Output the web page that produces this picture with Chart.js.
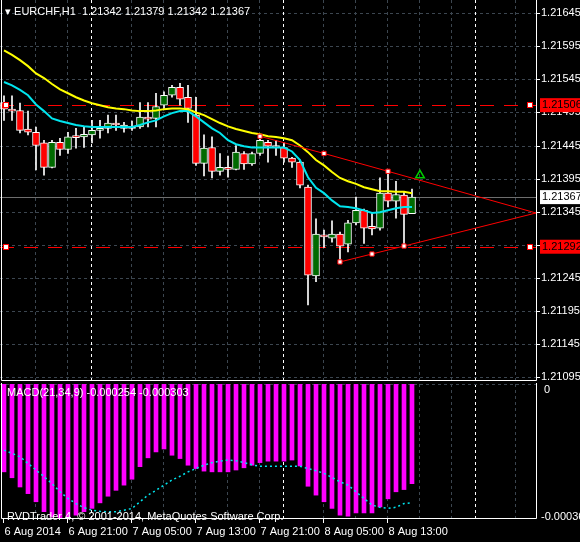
<!DOCTYPE html>
<html>
<head>
<meta charset="utf-8">
<script src="https://cdn.jsdelivr.net/npm/chart.js@4"></script>
<style>
  html, body { margin: 0; padding: 0; background: #000; width: 580px; height: 542px; overflow: hidden; }
  .wrap { position: absolute; left: 0; width: 580px; }
  canvas { display: block; }
  .txt { position: absolute; color: #fff; font: 11px "Liberation Sans", Arial, sans-serif; white-space: nowrap; }
</style>
</head>
<body>
<div class="wrap" style="top:0;height:381px"><canvas id="main" width="580" height="381"></canvas></div>
<div class="wrap" style="top:383px;height:159px"><canvas id="macd" width="580" height="159"></canvas></div>
<div class="txt" style="left:5px;top:5px">&#9662; EURCHF,H1&nbsp; 1.21342 1.21379 1.21342 1.21367</div>
<div class="txt" style="left:7px;top:386px">MACD(21,34,9) -0.000254 -0.000303</div>
<div class="txt" style="left:7px;top:510px">RVDTrader 4, © 2001-2014, MetaQuotes Software Corp.</div>
<script>
// hourly candles, EURCHF H1
const opens  = [1.21510,1.21500,1.21498,1.21470,1.21465,1.21449,1.21412,1.21450,1.21439,1.21458,1.21458,1.21461,1.21468,1.21471,1.21479,1.21471,1.21471,1.21473,1.21488,1.21486,1.21506,1.21521,1.21533,1.21518,1.21491,1.21418,1.21442,1.21406,1.21412,1.21409,1.21433,1.21417,1.21433,1.21450,1.21445,1.21442,1.21426,1.21420,1.21382,1.21248,1.21310,1.21305,1.21311,1.21296,1.21328,1.21347,1.21323,1.21320,1.21373,1.21361,1.21370,1.21342];
const highs  = [1.21520,1.21520,1.21509,1.21497,1.21473,1.21453,1.21453,1.21456,1.21465,1.21471,1.21473,1.21483,1.21483,1.21491,1.21491,1.21480,1.21482,1.21510,1.21510,1.21524,1.21526,1.21536,1.21539,1.21536,1.21518,1.21461,1.21458,1.21433,1.21429,1.21445,1.21436,1.21435,1.21458,1.21453,1.21453,1.21449,1.21427,1.21423,1.21385,1.21334,1.21317,1.21331,1.21314,1.21332,1.21367,1.21349,1.21343,1.21396,1.21408,1.21391,1.21375,1.21379];
const lows   = [1.21483,1.21483,1.21464,1.21461,1.21408,1.21400,1.21411,1.21430,1.21433,1.21441,1.21442,1.21449,1.21456,1.21464,1.21468,1.21465,1.21468,1.21471,1.21473,1.21473,1.21501,1.21518,1.21506,1.21480,1.21415,1.21399,1.21396,1.21400,1.21397,1.21408,1.21409,1.21415,1.21430,1.21420,1.21430,1.21420,1.21412,1.21381,1.21204,1.21239,1.21291,1.21299,1.21272,1.21284,1.21325,1.21297,1.21310,1.21317,1.21352,1.21335,1.21294,1.21342];
const closes = [1.21500,1.21497,1.21468,1.21465,1.21445,1.21412,1.21450,1.21439,1.21458,1.21457,1.21462,1.21468,1.21471,1.21479,1.21476,1.21476,1.21471,1.21488,1.21485,1.21504,1.21521,1.21533,1.21515,1.21501,1.21418,1.21441,1.21406,1.21412,1.21409,1.21435,1.21417,1.21433,1.21453,1.21444,1.21442,1.21426,1.21420,1.21385,1.21249,1.21311,1.21307,1.21311,1.21293,1.21328,1.21347,1.21320,1.21319,1.21373,1.21361,1.21371,1.21341,1.21367];

// moving averages
const maSlow = [1.21589,1.21582,1.21574,1.21565,1.21554,1.21547,1.21538,1.21530,1.21524,1.21518,1.21513,1.21509,1.21506,1.21503,1.21501,1.21500,1.21498,1.21497,1.21497,1.21498,1.21500,1.21501,1.21501,1.21500,1.21495,1.21491,1.21485,1.21479,1.21474,1.21470,1.21467,1.21464,1.21462,1.21459,1.21458,1.21456,1.21453,1.21445,1.21435,1.21423,1.21415,1.21405,1.21396,1.21391,1.21387,1.21382,1.21379,1.21376,1.21376,1.21375,1.21375,1.21373];
const maFast = [1.21541,1.21536,1.21529,1.21521,1.21507,1.21497,1.21486,1.21482,1.21479,1.21476,1.21474,1.21473,1.21473,1.21473,1.21473,1.21473,1.21473,1.21476,1.21480,1.21483,1.21489,1.21494,1.21497,1.21497,1.21489,1.21480,1.21471,1.21464,1.21453,1.21447,1.21444,1.21442,1.21442,1.21442,1.21442,1.21442,1.21436,1.21423,1.21397,1.21381,1.21373,1.21362,1.21353,1.21352,1.21350,1.21347,1.21343,1.21344,1.21347,1.21350,1.21352,1.21352];

// MACD(21,34,9)
const macdHist = [-0.000238,-0.000254,-0.000279,-0.000297,-0.000319,-0.000346,-0.000360,-0.000369,-0.000369,-0.000355,-0.000346,-0.000337,-0.000322,-0.000304,-0.000288,-0.000274,-0.000258,-0.000224,-0.000200,-0.000184,-0.000176,-0.000193,-0.000202,-0.000220,-0.000229,-0.000236,-0.000238,-0.000238,-0.000238,-0.000233,-0.000227,-0.000220,-0.000213,-0.000209,-0.000209,-0.000209,-0.000206,-0.000222,-0.000277,-0.000301,-0.000319,-0.000337,-0.000355,-0.000358,-0.000349,-0.000349,-0.000349,-0.000333,-0.000311,-0.000292,-0.000286,-0.000270];
const macdSignal = [-0.000179,-0.000188,-0.000197,-0.000215,-0.000233,-0.000251,-0.000270,-0.000292,-0.000310,-0.000324,-0.000335,-0.000342,-0.000345,-0.000346,-0.000346,-0.000342,-0.000337,-0.000319,-0.000301,-0.000288,-0.000274,-0.000260,-0.000250,-0.000238,-0.000229,-0.000220,-0.000213,-0.000209,-0.000206,-0.000208,-0.000213,-0.000219,-0.000223,-0.000223,-0.000223,-0.000223,-0.000223,-0.000223,-0.000229,-0.000235,-0.000242,-0.000253,-0.000265,-0.000274,-0.000292,-0.000310,-0.000328,-0.000334,-0.000337,-0.000334,-0.000324,-0.000322];

// triangle drawn on the chart (bar index, price)
const upperLine = [[32,1.21459],[40,1.21433],[48,1.21406],[66.5,1.21343]];
const lowerLine = [[42,1.21269],[46,1.21281],[50,1.21293],[66.5,1.21343]];
const arrowUp = [52,1.21400];

const levels = [1.21506, 1.21292];
const lastPrice = 1.21367;
const priceTicks = [1.21645,1.21595,1.21545,1.21495,1.21445,1.21395,1.21345,1.21295,1.21245,1.21195,1.21145,1.21095];
const timeLabels = ['6 Aug 2014','6 Aug 21:00','7 Aug 05:00','7 Aug 13:00','7 Aug 21:00','8 Aug 05:00','8 Aug 13:00'];
const timeIdx = [0,8,16,24,32,40,48];
const dayLines = [10.9,34.9,58.9];
const gridLines = [3.9,7.9,15.9,19.9,23.9,27.9,31.9,39.9,43.9,47.9,51.9,55.9,63.9];

const FONT = '11px "Liberation Sans", Arial, sans-serif';
const GRID = '#3c4650';
const idx = opens.map((_, i) => i);

function drawVGrid(ch) {
  const { ctx, chartArea: a, scales: { x } } = ch;
  ctx.save();
  ctx.lineWidth = 1;
  ctx.setLineDash([3, 3]);
  ctx.strokeStyle = GRID;
  gridLines.forEach(v => {
    const px = Math.round(x.getPixelForValue(v)) + 0.5;
    ctx.beginPath(); ctx.moveTo(px, a.top); ctx.lineTo(px, a.bottom); ctx.stroke();
  });
  ctx.strokeStyle = '#ffffff';
  dayLines.forEach(v => {
    const px = Math.round(x.getPixelForValue(v)) + 0.5;
    ctx.beginPath(); ctx.moveTo(px, a.top); ctx.lineTo(px, a.bottom); ctx.stroke();
  });
  ctx.restore();
}

function frame(ch) {
  const { ctx, chartArea: a } = ch;
  ctx.save();
  ctx.strokeStyle = '#fff';
  ctx.lineWidth = 1;
  ctx.beginPath();
  ctx.moveTo(1.5, 0); ctx.lineTo(1.5, a.bottom + 0.5);
  ctx.lineTo(a.right + 0.5, a.bottom + 0.5); ctx.lineTo(a.right + 0.5, 0);
  ctx.stroke();
  ctx.restore();
}

function tag(ctx, px, py, text, bg, fg) {
  ctx.fillStyle = bg;
  ctx.fillRect(px - 1, py - 7, 44, 14);
  ctx.fillStyle = fg;
  ctx.fillText(text, px + 1, py);
}

const mainPlugin = {
  id: 'mainDecor',
  beforeDatasetsDraw(ch) {
    const { ctx, chartArea: a, scales: { y } } = ch;
    ctx.save();
    ctx.lineWidth = 1;
    ctx.setLineDash([3, 3]);
    ctx.strokeStyle = GRID;
    priceTicks.forEach(v => {
      const py = Math.round(y.getPixelForValue(v)) + 0.5;
      ctx.beginPath(); ctx.moveTo(a.left, py); ctx.lineTo(a.right, py); ctx.stroke();
    });
    ctx.restore();
    drawVGrid(ch);
    ctx.save();
    ctx.lineWidth = 1;
    ctx.strokeStyle = '#ff0000';
    ctx.setLineDash([14, 10]);
    levels.forEach(v => {
      const py = Math.round(y.getPixelForValue(v)) + 0.5;
      ctx.beginPath(); ctx.moveTo(a.left, py); ctx.lineTo(a.right, py); ctx.stroke();
    });
    ctx.setLineDash([]);
    ctx.strokeStyle = '#6e6e6e';
    const lp = Math.round(y.getPixelForValue(lastPrice)) + 0.5;
    ctx.beginPath(); ctx.moveTo(a.left, lp); ctx.lineTo(a.right, lp); ctx.stroke();
    ctx.restore();
  },
  afterDraw(ch) {
    const { ctx, chartArea: a, scales: { y } } = ch;
    frame(ch);
    ctx.save();
    ctx.font = FONT;
    ctx.textBaseline = 'middle';
    ctx.fillStyle = '#fff';
    ctx.strokeStyle = '#fff';
    priceTicks.forEach(v => {
      const py = Math.round(y.getPixelForValue(v));
      ctx.beginPath(); ctx.moveTo(a.right + 1, py + 0.5); ctx.lineTo(a.right + 4, py + 0.5); ctx.stroke();
      ctx.fillText(v.toFixed(5), a.right + 5, py);
    });
    levels.forEach(v => tag(ctx, a.right + 5, y.getPixelForValue(v), v.toFixed(5), '#ff0000', '#000'));
    tag(ctx, a.right + 5, y.getPixelForValue(lastPrice), lastPrice.toFixed(5), '#ffffff', '#000');
    levels.forEach(v => {
      const py = Math.round(y.getPixelForValue(v));
      [a.left + 6, a.right - 6].forEach(px => {
        ctx.fillStyle = '#fff'; ctx.fillRect(px - 3, py - 3, 6, 6);
        ctx.strokeStyle = '#ff0000'; ctx.strokeRect(px - 2.5, py - 2.5, 5, 5);
      });
    });
    ctx.restore();
  }
};

const macdPlugin = {
  id: 'macdDecor',
  beforeDatasetsDraw(ch) {
    drawVGrid(ch);
    const { ctx, chartArea: a } = ch;
    ctx.save();
    ctx.strokeStyle = GRID;
    ctx.setLineDash([3, 3]);
    ctx.beginPath(); ctx.moveTo(a.left, a.top + 0.5); ctx.lineTo(a.right, a.top + 0.5); ctx.stroke();
    ctx.restore();
  },
  afterDraw(ch) {
    const { ctx, chartArea: a, scales: { x } } = ch;
    frame(ch);
    ctx.save();
    ctx.font = FONT;
    ctx.fillStyle = '#fff';
    ctx.strokeStyle = '#fff';
    ctx.textBaseline = 'middle';
    ctx.fillText('0', a.right + 8, a.top + 6);
    ctx.fillText('-0.00036', a.right + 5, a.bottom - 1);
    ctx.textBaseline = 'top';
    timeIdx.forEach((v, k) => {
      const px = Math.round(x.getPixelForValue(v)) - 0.5;
      ctx.beginPath(); ctx.moveTo(px, a.bottom + 1); ctx.lineTo(px, a.bottom + 5); ctx.stroke();
      ctx.fillText(timeLabels[k], px + 1, a.bottom + 8);
    });
    ctx.restore();
  }
};

const xScale = { type: 'linear', min: -0.5, max: 66.5, offset: false, display: false };

new Chart(document.getElementById('main'), {
  type: 'bar',
  data: {
    datasets: [
      { type: 'line', data: idx.map(i => ({ x: i, y: maSlow[i] })), borderColor: '#ffff00', borderWidth: 2, pointRadius: 0, order: 0 },
      { type: 'line', data: idx.map(i => ({ x: i, y: maFast[i] })), borderColor: '#00e5ee', borderWidth: 2, pointRadius: 0, order: 0 },
      { type: 'line', data: upperLine.map(p => ({ x: p[0], y: p[1] })), borderColor: '#ff0000', borderWidth: 1,
        pointStyle: 'rect', pointRadius: [3, 3, 3, 0], pointBackgroundColor: '#fff', pointBorderColor: '#ff0000', order: -1 },
      { type: 'line', data: lowerLine.map(p => ({ x: p[0], y: p[1] })), borderColor: '#ff0000', borderWidth: 1,
        pointStyle: 'rect', pointRadius: [3, 3, 3, 0], pointBackgroundColor: '#fff', pointBorderColor: '#ff0000', order: -1 },
      { type: 'scatter', data: [{ x: arrowUp[0], y: arrowUp[1] }], pointStyle: 'triangle', pointRadius: 5,
        borderColor: '#00cc00', backgroundColor: 'rgba(0,0,0,0)', borderWidth: 1.5, order: -1 },
      { data: idx.map(i => ({ x: i, y: [lows[i], highs[i]] })), backgroundColor: '#fff', barThickness: 1, grouped: false, order: 2 },
      { data: idx.map(i => ({ x: i, y: [opens[i], closes[i]] })),
        backgroundColor: idx.map(i => closes[i] > opens[i] ? '#006a00' : closes[i] < opens[i] ? '#ff0000' : '#fff'),
        borderColor: '#fff', borderWidth: 1, borderSkipped: false, barThickness: 7, minBarLength: 2, grouped: false, order: 1 }
    ]
  },
  options: {
    responsive: false, animation: false, devicePixelRatio: 1,
    layout: { autoPadding: false, padding: { left: 0, right: 44, top: 0, bottom: 1 } },
    plugins: { legend: { display: false }, tooltip: { enabled: false } },
    scales: {
      x: xScale,
      y: { display: false, min: 1.210905, max: 1.216650 }
    }
  },
  plugins: [mainPlugin]
});

new Chart(document.getElementById('macd'), {
  type: 'bar',
  data: {
    datasets: [
      { type: 'line', data: idx.map(i => ({ x: i, y: macdSignal[i] })), borderColor: '#00e5ee', borderWidth: 1.5,
        borderDash: [2, 3], pointRadius: 0, order: 0 },
      { data: idx.map(i => ({ x: i, y: macdHist[i] })), backgroundColor: '#ff00ff', barThickness: 4, order: 1 }
    ]
  },
  options: {
    responsive: false, animation: false, devicePixelRatio: 1,
    layout: { autoPadding: false, padding: { left: 0, right: 44, top: 1, bottom: 24 } },
    plugins: { legend: { display: false }, tooltip: { enabled: false } },
    scales: {
      x: xScale,
      y: { display: false, min: -0.000363, max: 0 }
    }
  },
  plugins: [macdPlugin]
});
</script>
</body>
</html>
